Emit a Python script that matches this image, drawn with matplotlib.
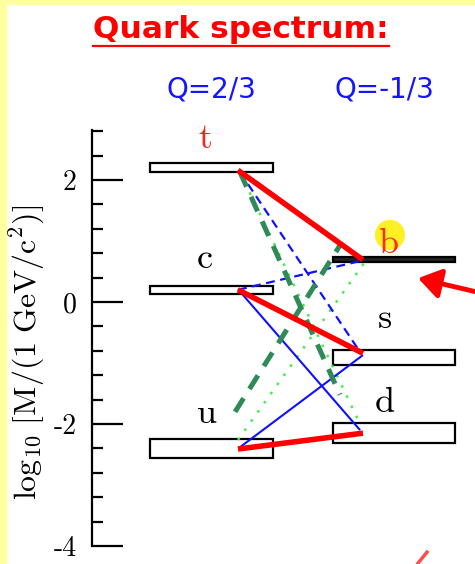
import matplotlib
matplotlib.use("Agg")
import matplotlib.pyplot as plt
from matplotlib.patches import Rectangle
from matplotlib.lines import Line2D
from matplotlib.ticker import MultipleLocator, FixedLocator, FixedFormatter

plt.rcParams['mathtext.fontset'] = 'cm'

# --- data (log10 of mass in GeV) ---
up_names = ['t', 'c', 'u']
up_lo = [2.13, 0.13, -2.56]
up_hi = [2.28, 0.26, -2.25]

down_names = ['b', 's', 'd']
down_lo = [0.65, -1.03, -2.31]
down_hi = [0.73, -0.79, -1.98]

columns = ['Q=2/3', 'Q=-1/3']

# transitions: start (x, y) -> end (x, y), x in column units
tr_x0 = [0.145, 0.145, 0.145, 0.145, 0.156, 0.156, 0.145, 0.156, 0.145, 0.156, 0.129]
tr_y0 = [2.16, 0.20, -2.41, 0.21, -2.38, 2.13, 0.20, 2.13, -2.26, 2.13, -1.80]
tr_x1 = [0.830, 0.830, 0.830, 0.814, 0.830, 0.814, 0.841, 0.803, 0.841, 0.704, 0.704]
tr_y1 = [0.69, -0.84, -2.15, -2.10, -0.87, -0.82, 0.69, -1.93, 0.66, -1.52, 0.93]
tr_kind = ['red', 'red', 'red', 'blue', 'blue', 'bluedash', 'bluedash',
           'dot', 'dot', 'green', 'green']

styles = {
    'red': dict(color='#ff0000', lw=4.0, ls='-', zorder=5),
    'blue': dict(color='#1010ff', lw=1.5, ls='-', zorder=4),
    'bluedash': dict(color='#1010ff', lw=1.6, ls=(0, (4, 2.5)), zorder=4),
    'dot': dict(color='#44ee44', lw=1.8, ls=(0, (1, 3.5)), zorder=3),
    'green': dict(color='#2e8b57', lw=3.6, ls=(0, (3.2, 2.2)), zorder=4),
}

fig = plt.figure(figsize=(4.75, 5.64), dpi=100)
fig.patch.set_facecolor('white')
# yellow slide border
fig.patches.append(Rectangle((0, 0), 6 / 475, 1, transform=fig.transFigure,
                             color='#ffffa0', zorder=0))
fig.patches.append(Rectangle((0, 1 - 4 / 564), 1, 4 / 564, transform=fig.transFigure,
                             color='#ffffa0', zorder=0))

ax = fig.add_axes([92 / 475, 18 / 564, 383 / 475, 416 / 564])
ax.set_facecolor('none')
ax.set_xlim(-0.655, 1.444)
ax.set_ylim(-4, 2.82)
for s in ['top', 'right', 'bottom']:
    ax.spines[s].set_visible(False)
ax.spines['left'].set_linewidth(1.6)
ax.set_xticks([])

ax.yaxis.set_major_locator(FixedLocator([-4, -2, 0, 2]))
ax.yaxis.set_major_formatter(FixedFormatter(['-4', '-2', '0', '2']))
ax.yaxis.set_minor_locator(MultipleLocator(0.4))
ax.tick_params(axis='y', which='major', direction='in', length=22, width=1.6,
               pad=11, labelsize=20)
ax.tick_params(axis='y', which='minor', direction='in', length=8, width=1.6)
for lab in ax.get_yticklabels():
    lab.set_fontfamily('cmr10')

# mass levels
ax.bar([0] * 3, [h - l for h, l in zip(up_hi, up_lo)], bottom=up_lo, width=0.67,
       facecolor='white', edgecolor='black', linewidth=1.6, zorder=2)
ax.bar([1] * 3, [h - l for h, l in zip(down_hi, down_lo)], bottom=down_lo, width=0.67,
       facecolor=['#222222', 'white', 'white'], edgecolor='black', linewidth=1.6, zorder=2)

# transitions
for x0, y0, x1, y1, k in zip(tr_x0, tr_y0, tr_x1, tr_y1, tr_kind):
    st = styles[k]
    ax.plot([x0, x1], [y0, y1], color=st['color'], lw=st['lw'], ls=st['ls'],
            zorder=st['zorder'], solid_capstyle='butt')

# level labels
ax.text(-0.036, 2.52, up_names[0], color='#ff2020', fontfamily='cmr10', fontsize=26,
        ha='center', va='baseline', zorder=6, clip_on=False)
ax.text(-0.036, 0.56, up_names[1], color='black', fontfamily='cmr10', fontsize=26,
        ha='center', va='baseline', zorder=6)
ax.text(-0.025, -1.98, up_names[2], color='black', fontfamily='cmr10', fontsize=26,
        ha='center', va='baseline', zorder=6)
ax.scatter([0.978], [1.10], s=470, color='#ffee00', alpha=0.85, edgecolors='none', zorder=5)
ax.text(0.967, 0.80, down_names[0], color='#ff2a00', fontfamily='cmr10', fontsize=26,
        ha='center', va='baseline', zorder=6)
ax.text(0.951, -0.43, down_names[1], color='black', fontfamily='cmr10', fontsize=26,
        ha='center', va='baseline', zorder=6)
ax.text(0.951, -1.80, down_names[2], color='black', fontfamily='cmr10', fontsize=26,
        ha='center', va='baseline', zorder=6)

# column headers
ax.text(0.0, 3.48, columns[0], color='#1414ff', fontfamily='DejaVu Sans', fontsize=20,
        ha='center', va='center', clip_on=False)
ax.text(0.95, 3.48, columns[1], color='#1414ff', fontfamily='DejaVu Sans', fontsize=20,
        ha='center', va='center', clip_on=False)

# red pointer arrow at b level
ax.annotate('', xy=(1.132, 0.39), xytext=(1.46, 0.16),
            arrowprops=dict(arrowstyle='-|>,head_length=0.45,head_width=0.3',
                            color='#ff0000', lw=3.5, mutation_scale=30, shrinkA=0, shrinkB=0),
            annotation_clip=False, zorder=6)
ax.plot([1.132, 1.181], [-4.28, -4.10], color='#ff2020', lw=2.5, alpha=0.8,
        clip_on=False, zorder=6)

fig.text(27 / 475, 1 - 352 / 564,
         r'$\mathrm{log}_{10}\ [\mathrm{M}/(1\ \mathrm{GeV}/\mathrm{c}^2)]$',
         rotation=90, fontsize=23, ha='center', va='center')

title = fig.text(241 / 475, 1 - 30 / 564, 'Quark spectrum:', color='#ff0000',
                 fontfamily='DejaVu Sans', fontweight='bold', fontsize=22.5,
                 ha='center', va='center')
fig.canvas.draw()
bb = title.get_window_extent().transformed(fig.transFigure.inverted())
fig.lines.append(Line2D([bb.x0, bb.x1], [bb.y0 - 1 / 564, bb.y0 - 1 / 564],
                        transform=fig.transFigure, color='#ff0000', lw=1.6))

fig.savefig('out.png', dpi=100)
